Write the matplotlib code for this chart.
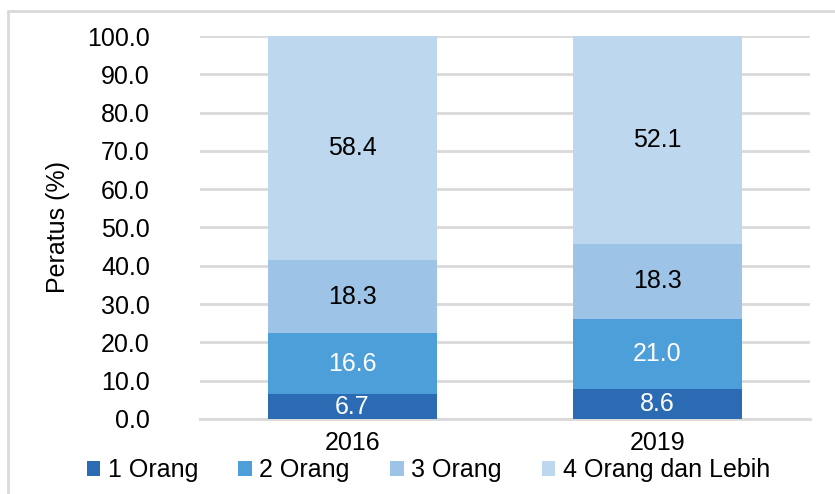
import numpy as np
import matplotlib.pyplot as plt
from matplotlib.patches import Rectangle

plt.rcParams["font.family"] = ["Liberation Sans", "DejaVu Sans"]

years = ["2016", "2019"]
labels = ["1 Orang", "2 Orang", "3 Orang", "4 Orang dan Lebih"]

# segment heights as drawn in the chart
orang_1 = [6.4, 7.7]
orang_2 = [16.0, 18.5]
orang_3 = [19.0, 19.4]
orang_4 = [58.6, 54.4]

# data labels as printed on the chart
label_1 = ["6.7", "8.6"]
label_2 = ["16.6", "21.0"]
label_3 = ["18.3", "18.3"]
label_4 = ["58.4", "52.1"]

series = [orang_1, orang_2, orang_3, orang_4]
texts = [label_1, label_2, label_3, label_4]
colors = ["#2B6BB4", "#4D9FD9", "#9DC3E6", "#BDD7EE"]
text_colors = ["white", "white", "black", "black"]

fs = 18

fig = plt.figure(figsize=(8.35, 4.94), dpi=100)
ax = fig.add_axes([0.2395, 0.152, 0.7305, 0.775])

x = np.arange(len(years))
bottom = np.zeros(len(years))
for vals, txt, col, tcol, lab in zip(series, texts, colors, text_colors, labels):
    bars = ax.bar(x, vals, width=0.555, bottom=bottom, color=col, label=lab, zorder=3)
    ax.bar_label(bars, labels=txt, label_type="center", color=tcol, fontsize=fs)
    bottom += np.array(vals)

ax.set_xlim(-0.5, 1.5)
ax.set_ylim(0, 100)
ax.set_yticks(np.arange(0, 101, 10))
ax.set_yticklabels([f"{v:.1f}" for v in np.arange(0, 101, 10)])
ax.set_xticks(x)
ax.set_xticklabels(years)
ax.tick_params(axis="y", length=0, pad=36, labelsize=fs)
ax.tick_params(axis="x", length=0, pad=9, labelsize=fs)
ax.grid(axis="y", color="#D9D9D9", linewidth=2, zorder=0)
for s in ["top", "right", "left"]:
    ax.spines[s].set_visible(False)
ax.spines["bottom"].set_color("#D9D9D9")
ax.spines["bottom"].set_linewidth(2)
ax.set_ylabel("Peratus (%)", fontsize=fs)
ax.yaxis.set_label_coords(-0.213, 0.5)

fig.legend(loc="center", bbox_to_anchor=(0.513, 0.048), ncol=4, frameon=False,
           fontsize=fs, handlelength=0.55, handleheight=0.55, handletextpad=0.3,
           columnspacing=1.6)

fig.patches.append(Rectangle((8 / 835, -0.1), 1.2, 1.1 - 11 / 494, fill=False,
                             edgecolor="#D9D9D9", linewidth=2, transform=fig.transFigure))

fig.savefig("out.png", dpi=100)
